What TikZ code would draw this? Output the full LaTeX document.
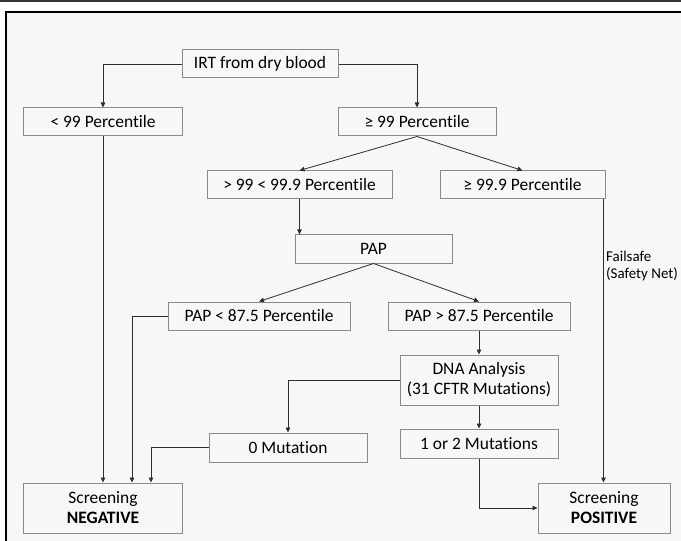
\documentclass[tikz,border=0pt]{standalone}
\usepackage{fontspec}
\setmainfont{Carlito}[Ligatures=NoCommon]
\usetikzlibrary{arrows.meta}
\usetikzlibrary{calc}
\usetikzlibrary{positioning}
\definecolor{panel}{HTML}{F7F7F7}
\definecolor{boxline}{HTML}{8A8A8A}
\definecolor{wire}{HTML}{2E2E2E}

\begin{document}
\begin{tikzpicture}[x=1bp,y=-1bp,>={Triangle[length=5bp,width=4.5bp]},
  font=\fontsize{17.5}{20}\selectfont]
  \tikzstyle{box}=[draw=boxline, line width=1bp, text=black, inner sep=0pt, minimum height=28bp, align=center]
  \tikzstyle{flow}=[->, draw=wire, line width=0.8bp]
  \useasboundingbox (0,0) rectangle (681,541);
  % frame
  \fill[panel] (6,12) rectangle (690,550);
  \draw[black, line width=2.5bp] (6,550) -- (6,12) -- (690,12);
  \draw[black!80, line width=2.5bp] (0,1) -- (681,1);

  \node[box, minimum width=156bp] (irt)    at (260,64)    {IRT from dry blood};
  \node[box, minimum width=158bp] (lt99)   at (103,122)   {< 99 Percentile};
  \node[box, minimum width=158bp] (ge99)   at (417,122)   {≥ 99 Percentile};
  \node[box, minimum width=185bp] (mid)    at (299.5,185) {> 99 < 99.9 Percentile};
  \node[box, minimum width=165bp] (ge999)  at (522.5,185) {≥ 99.9 Percentile};
  \node[box, minimum width=157bp] (pap)    at (373.5,249) {PAP};
  \node[box, minimum width=182bp] (paplo)  at (259,316)   {PAP < 87.5 Percentile};
  \node[box, minimum width=182bp] (paphi)  at (479,316)   {PAP > 87.5 Percentile};
  \node[box, minimum width=158bp, minimum height=50bp] (dna) at (479,380) {DNA Analysis\\(31 CFTR Mutations)};
  \node[box, minimum width=158bp, minimum height=29bp] (zero)   at (288,447.5) {0 Mutation};
  \node[box, minimum width=158bp, minimum height=29bp] (onetwo) at (479,443.5) {1 or 2 Mutations};
  \node[box, minimum width=158bp, minimum height=50bp] (neg) at (103,508) {Screening\\\textbf{NEGATIVE}};
  \node[box, minimum width=132bp, minimum height=50bp] (pos) at (604,508) {Screening\\\textbf{POSITIVE}};
  \node[anchor=west, align=left, inner sep=0pt, font=\fontsize{15}{18}\selectfont] (failsafe) at (606,266) {Failsafe\\(Safety Net)};

  \coordinate (negb) at ($(neg.north)+(29,0)$);
  \coordinate (negc) at ($(neg.north)+(48,0)$);
  \coordinate (fall) at ($(ge999.south east)+(-2,0)$);

  \draw[flow] (irt.west) -| (lt99.north);
  \draw[flow] (irt.east) -| (ge99.north);
  \draw[flow] (ge99.south) -- (mid.north);
  \draw[flow] (ge99.south) -- (ge999.north);
  \draw[flow] (mid.south) -- (mid.south |- pap.north);
  \draw[flow] (pap.south) -- (paplo.north);
  \draw[flow] (pap.south) -- (paphi.north);
  \draw[flow] (paphi.south) -- (dna.north);
  \draw[flow] (dna.west) -| (zero.north);
  \draw[flow] (dna.south) -- (onetwo.north);
  \draw[flow] (lt99.south) -- (neg.north);
  \draw[flow] (paplo.west) -| (negb);
  \draw[flow] (zero.west) -| (negc);
  \draw[flow] (onetwo.south) |- (pos.west);
  \draw[flow] (fall) -- (fall |- pos.north);
\end{tikzpicture}
\end{document}
